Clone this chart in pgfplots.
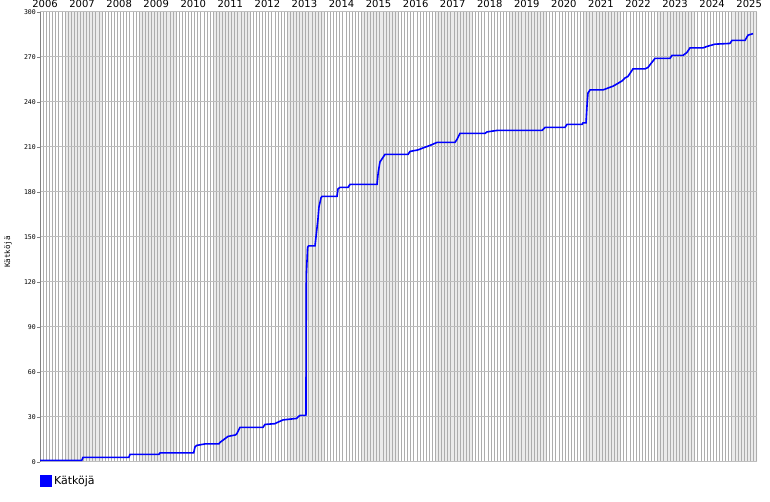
\documentclass[border=0pt]{standalone}
\usepackage{fontspec}
\setmainfont{DejaVu Sans}
\newfontfamily\monofont{DejaVu Sans Mono}
\usepackage{pgfplots}
\pgfplotsset{compat=1.18}
\definecolor{band}{HTML}{EBEBEB}
\definecolor{mgrid}{HTML}{ADADAD}
\definecolor{hgrid}{HTML}{BEBEBE}
\begin{document}
\begin{tikzpicture}
\begin{axis}[
  at={(0pt,0pt)}, anchor=south west,
  scale only axis, width=717pt, height=450pt,
  xmin=2006.324, xmax=2025.671, ymin=0, ymax=300,
  set layers,
  axis x line*=top, axis y line*=left,
  x axis line style={draw=none},
  y axis line style={draw=gray, line width=0.8pt},
  xtick={2006.46,2007.46,...,2025.46},
  xticklabels={2006,2007,2008,2009,2010,2011,2012,2013,2014,2015,2016,2017,2018,2019,2020,2021,2022,2023,2024,2025},
  xticklabel style={font=\fontsize{10}{12}\selectfont, anchor=base, inner sep=0pt, yshift=1.5pt},
  major x tick style={draw=none},
  minor xtick={2006,2006.0833333,...,2026},
  minor x tick style={draw=none},
  xmajorgrids=false, xminorgrids=true,
  minor x grid style={mgrid, line width=0.9pt},
  ytick={0,30,...,300},
  ymajorgrids=true,
  major y grid style={hgrid, line width=0.9pt},
  tick align=outside,
  major y tick style={gray, line width=0.8pt},
  major tick length=3pt,
  yticklabel style={font=\monofont\fontsize{6.5}{7}\selectfont, inner sep=1pt},
  /pgf/number format/assume math mode=true,
  ylabel={Kätköjä},
  ylabel style={at={(rel axis cs:-0.0446,0.467)}, anchor=center, font=\monofont\fontsize{7.5}{9}\selectfont},
  legend style={at={(rel axis cs:0,0)}, anchor=north west, draw=none, fill=none,
    font=\fontsize{11}{13}\selectfont, inner xsep=0pt, inner ysep=0pt, yshift=-12pt, xshift=0.2pt},
  legend image code/.code={\fill[blue] (0pt,-5pt) rectangle (10pt,5pt);},
  legend cell align=left,
]
\addplot[const plot, fill=band, draw=none, forget plot, on layer=axis background]
  coordinates {(2006.324,0)(2007,300)(2008,0)(2009,300)(2010,0)(2011,300)(2012,0)(2013,300)(2014,0)(2015,300)(2016,0)(2017,300)(2018,0)(2019,300)(2020,0)(2021,300)(2022,0)(2023,300)(2024,0)(2025,300)(2025.671,300)} \closedcycle;
\addplot[blue, line width=1.6pt] coordinates {
(2006.324,1)(2007.45,1)(2007.484,3)
(2008.72,3)(2008.752,5)
(2009.53,5)(2009.562,6)
(2010.47,6)(2010.506,10)(2010.55,11)(2010.776,12)
(2011.15,12)(2011.181,13)(2011.316,15.5)(2011.397,17)
(2011.60,18)(2011.640,19)(2011.720,23)
(2012.341,23)(2012.395,25)(2012.665,25.5)(2012.70,26)(2012.881,28)
(2013.25,29)(2013.285,30)(2013.339,31)(2013.50,31)
(2013.51,124)(2013.545,143)
(2013.57,144)(2013.744,144)(2013.771,150)(2013.825,162)(2013.852,170)(2013.906,176)(2013.933,177)
(2014.338,177)(2014.365,182)(2014.419,183)(2014.635,183)(2014.689,185)
(2015.417,185)(2015.45,193)(2015.498,200)(2015.633,205)
(2016.254,205)(2016.308,207)(2016.523,208)(2016.658,209.3)(2016.847,211)(2017.036,213)
(2017.522,213)(2017.576,215)(2017.657,219)
(2018.331,219)(2018.385,220)(2018.655,221)
(2019.869,221)(2019.950,223)
(2020.490,223)(2020.544,225)
(2020.949,225)(2020.976,226)(2021.057,226)(2021.09,240)(2021.111,246)(2021.165,248)
(2021.515,248)(2021.623,249)(2021.785,250.5)(2021.893,252)(2022.028,254)(2022.109,256)(2022.190,257)(2022.298,261)(2022.325,262)
(2022.649,262)(2022.730,263)(2022.838,266.5)(2022.918,269)
(2023.323,269)(2023.377,271)(2023.674,271)(2023.782,273)(2023.863,276)
(2024.214,276)(2024.322,277)(2024.537,278.5)(2024.942,279)(2024.996,281)(2025.347,281)(2025.428,284.5)(2025.563,285.5)
};
\addlegendentry{Kätköjä}
\end{axis}
\path (-40pt,-40pt) rectangle (730pt,460pt);
\end{tikzpicture}
\end{document}
